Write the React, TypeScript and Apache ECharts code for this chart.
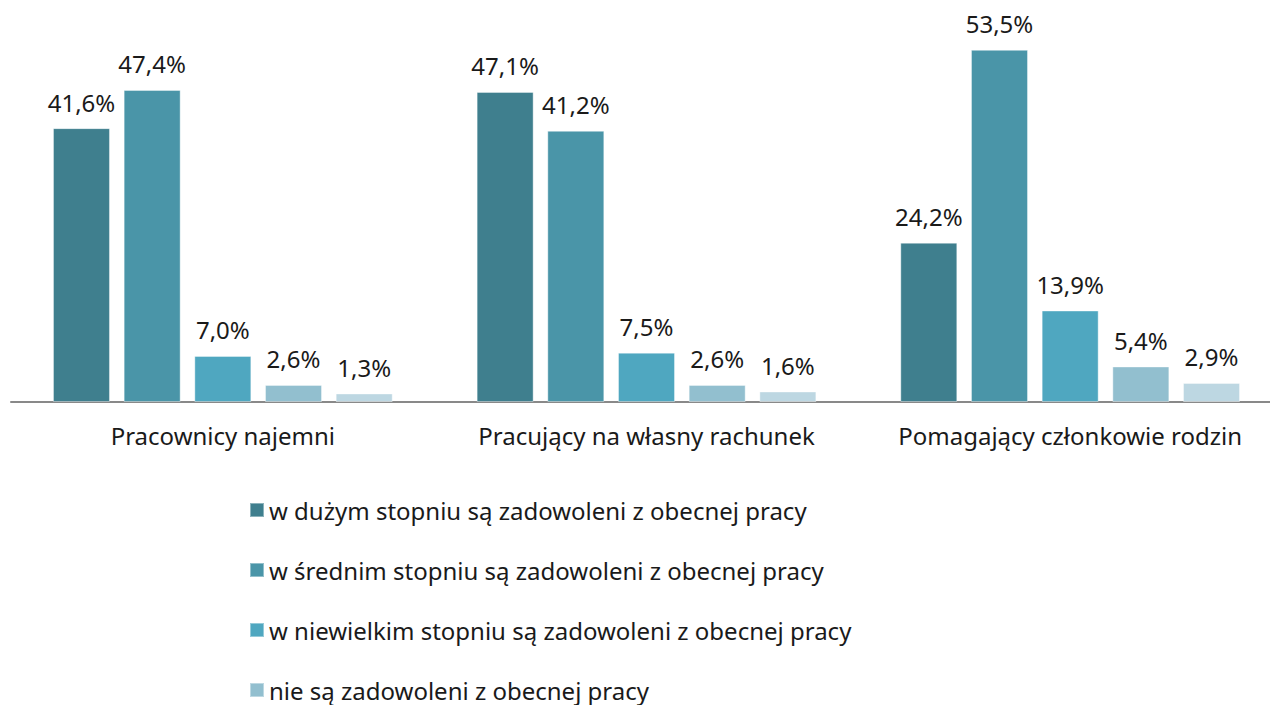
import React, { useEffect, useRef } from "react";
import * as echarts from "echarts";

const categories = ["Pracownicy najemni", "Pracujący na własny rachunek", "Pomagający członkowie rodzin"];
const seriesNames = [
  "w dużym stopniu są zadowoleni z obecnej pracy",
  "w średnim stopniu są zadowoleni z obecnej pracy",
  "w niewielkim stopniu są zadowoleni z obecnej pracy",
  "nie są zadowoleni z obecnej pracy",
  "pozostali",
];
const duzym = [41.6, 47.1, 24.2];
const srednim = [47.4, 41.2, 53.5];
const niewielkim = [7.0, 7.5, 13.9];
const nie = [2.6, 2.6, 5.4];
const pozostali = [1.3, 1.6, 2.9];
const seriesValues = [duzym, srednim, niewielkim, nie, pozostali];
const colors = ["#3F7F8E", "#4A95A8", "#4FA7C0", "#92BFCF", "#BDD7E2"];

export default function App() {
  const ref = useRef<HTMLDivElement>(null);
  useEffect(() => {
    if (!ref.current) return;
    const chart = echarts.init(ref.current, null, { renderer: "svg" });
    const font = "'Noto Sans', sans-serif";
    chart.setOption({
      animation: false,
      grid: { left: 11, right: 18, top: 7, bottom: 303, containLabel: false },
      legend: {
        data: seriesNames.slice(0, 4),
        orient: "vertical",
        left: 249,
        top: 498,
        height: 400,
        padding: 0,
        itemWidth: 14,
        itemHeight: 14,
        itemGap: 36,
        icon: "rect",
        textStyle: { fontFamily: font, fontSize: 24, color: "#1a1a1a", lineHeight: 24 },
      },
      xAxis: {
        type: "category",
        data: categories,
        axisLine: { lineStyle: { color: "#898989", width: 2 } },
        axisTick: { show: false },
        axisLabel: { fontFamily: font, fontSize: 24, color: "#1a1a1a", margin: 21, interval: 0 },
      },
      yAxis: { type: "value", min: 0, max: 60, show: false, splitLine: { show: false } },
      series: seriesValues.map((vals, i) => ({
        name: seriesNames[i],
        type: "bar",
        data: vals,
        barWidth: 57,
        barGap: "24%",
        itemStyle: { color: colors[i], borderColor: "rgba(255,255,255,0.4)", borderWidth: 1 },
        label: {
          show: true,
          position: "top",
          distance: 14,
          fontFamily: font,
          fontSize: 24,
          color: "#1a1a1a",
          formatter: (p: any) => p.value.toFixed(1).replace(".", ",") + "%",
        },
      })),
    });
    return () => chart.dispose();
  }, []);
  return (
    <div style={{ position: "fixed", left: 0, top: 0, width: 1270, height: 705, overflow: "hidden", background: "#fff" }}>
      <div ref={ref} style={{ width: 1300, height: 705 }} />
    </div>
  );
}
